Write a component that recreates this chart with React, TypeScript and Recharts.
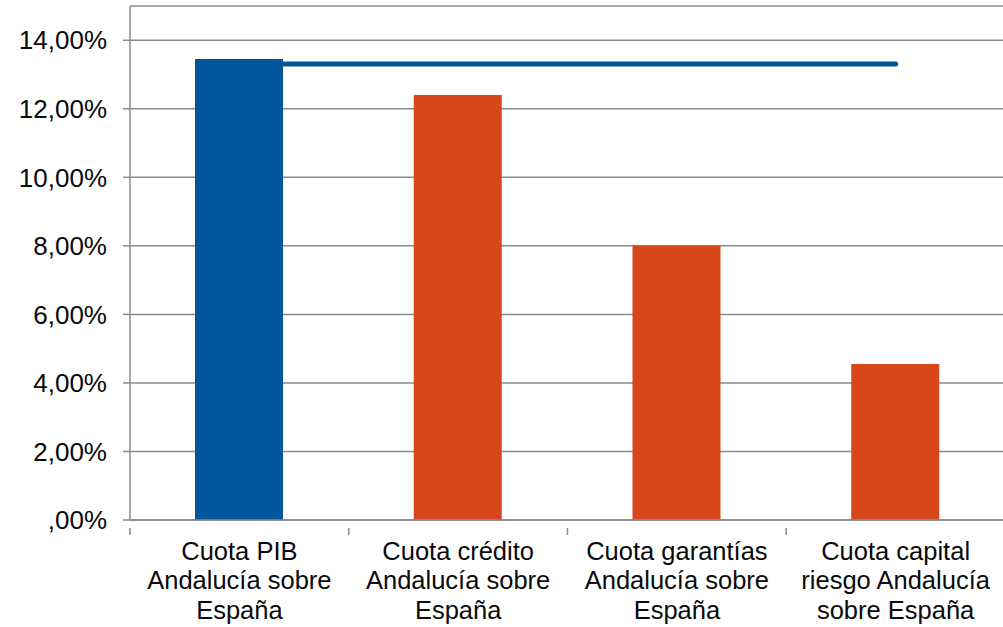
import React from "react";
import { ComposedChart, Bar, Line, XAxis, YAxis, CartesianGrid, Cell } from "recharts";

const categories = [
  "Cuota PIB|Andalucía sobre|España",
  "Cuota crédito|Andalucía sobre|España",
  "Cuota garantías|Andalucía sobre|España",
  "Cuota capital|riesgo Andalucía|sobre España",
];
const cuotas = [0.1345, 0.124, 0.08, 0.0455];
const referencia = [0.1331, 0.1331, 0.1331, 0.1331];
const barColors = ["#02569C", "#D8471C", "#D8471C", "#D8471C"];
const yTicks = [0, 0.02, 0.04, 0.06, 0.08, 0.1, 0.12, 0.14];

const data = categories.map((c, i) => ({ name: c, cuota: cuotas[i], nivel: referencia[i] }));

const FONT = "'Liberation Sans', Arial, sans-serif";
const CHART_W = 1005;
const CHART_H = 627;
const LEFT = 130;
const RIGHT = 0;
const BAND = (CHART_W - LEFT - RIGHT) / categories.length;

const fmt = (v: number) => {
  const s = (v * 100).toFixed(2).replace(".", ",");
  return (s.startsWith("0,") ? s.slice(1) : s) + "%";
};

const XTick = (props: any) => {
  const { x, y, payload, index } = props;
  const lines = String(payload.value).split("|");
  const half = BAND / 2;
  return (
    <g>
      {index === 0 && <line x1={x - half} x2={x - half} y1={y} y2={y + 7} stroke="#8a8a8a" strokeWidth={1.5} />}
      <line x1={x + half} x2={x + half} y1={y} y2={y + 7} stroke="#8a8a8a" strokeWidth={1.5} />
      {lines.map((l, i) => (
        <text key={i} x={x} y={559.5 + i * 29.5} textAnchor="middle" fontSize={25.5} fontFamily={FONT} fill="#0a0a0a">
          {l}
        </text>
      ))}
    </g>
  );
};

export default function App() {
  return (
    <div style={{ position: "fixed", left: 0, top: 0, width: 1003, height: 627, overflow: "hidden", background: "#fff" }}>
      <ComposedChart
        width={CHART_W}
        height={CHART_H}
        data={data}
        margin={{ top: 6, right: RIGHT, bottom: 7, left: 10 }}
      >
        <CartesianGrid vertical={false} stroke="#8a8a8a" strokeWidth={1.5} />
        <XAxis
          dataKey="name"
          interval={0}
          tickLine={false}
          axisLine={{ stroke: "#8a8a8a", strokeWidth: 1.5 }}
          height={100}
          tick={<XTick />}
        />
        <YAxis
          width={120}
          domain={[0, 0.15]}
          ticks={yTicks}
          tickFormatter={fmt}
          tickSize={7}
          tickMargin={16}
          tickLine={{ stroke: "#8a8a8a", strokeWidth: 1.5 }}
          axisLine={{ stroke: "#8a8a8a", strokeWidth: 1.5 }}
          tick={{ fontSize: 26, fontFamily: FONT, fill: "#0a0a0a" }}
        />
        <Line
          dataKey="nivel"
          stroke="#02569C"
          strokeWidth={5}
          strokeLinecap="round"
          dot={false}
          activeDot={false}
          isAnimationActive={false}
        />
        <Bar dataKey="cuota" barSize={88} isAnimationActive={false}>
          {data.map((d, i) => (
            <Cell key={i} fill={barColors[i]} />
          ))}
        </Bar>
      </ComposedChart>
    </div>
  );
}
